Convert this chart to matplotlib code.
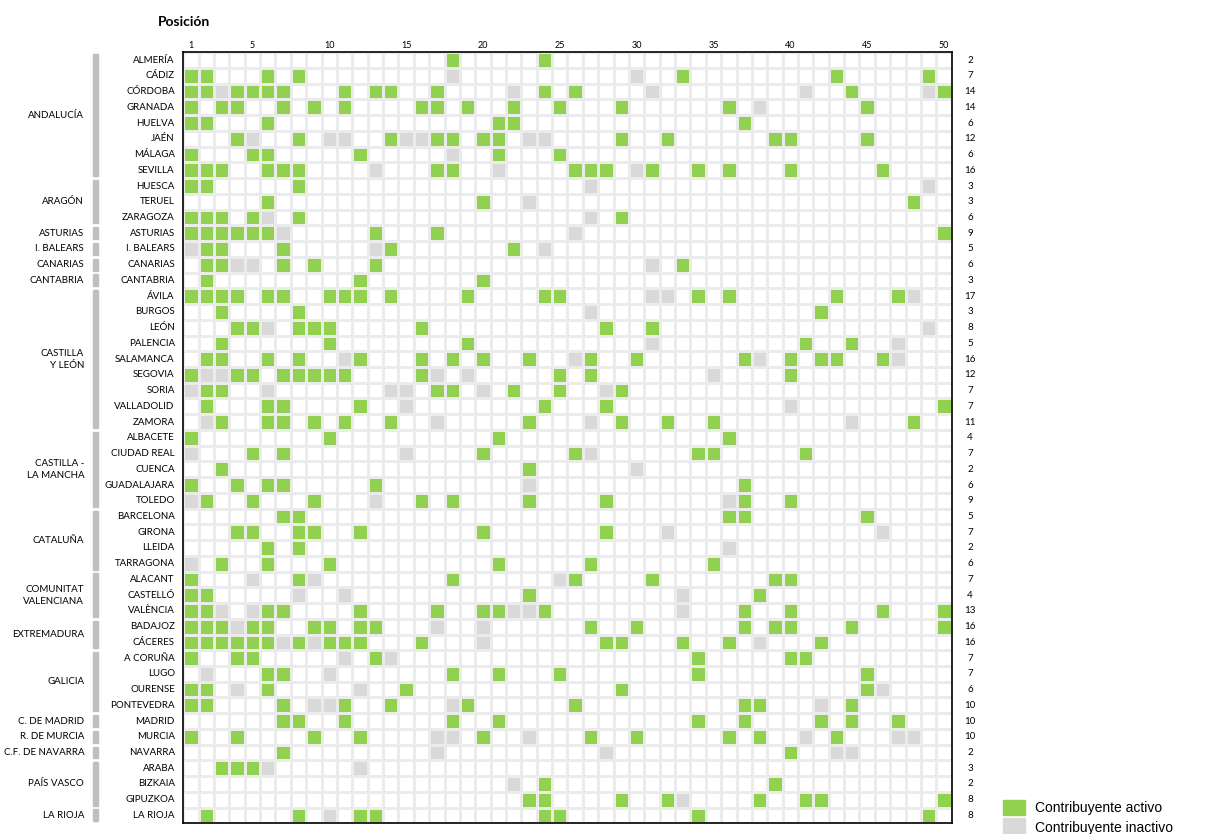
import numpy as np
import matplotlib
matplotlib.use('Agg')
import matplotlib.pyplot as plt
import matplotlib.patches as mpatches
from matplotlib.colors import ListedColormap

provincias = ['ALMERÍA', 'CÁDIZ', 'CÓRDOBA', 'GRANADA', 'HUELVA', 'JAÉN', 'MÁLAGA', 'SEVILLA',
              'HUESCA', 'TERUEL', 'ZARAGOZA', 'ASTURIAS', 'I. BALEARS', 'CANARIAS', 'CANTABRIA',
              'ÁVILA', 'BURGOS', 'LEÓN', 'PALENCIA', 'SALAMANCA', 'SEGOVIA', 'SORIA', 'VALLADOLID', 'ZAMORA',
              'ALBACETE', 'CIUDAD REAL', 'CUENCA', 'GUADALAJARA', 'TOLEDO',
              'BARCELONA', 'GIRONA', 'LLEIDA', 'TARRAGONA', 'ALACANT', 'CASTELLÓ', 'VALÈNCIA',
              'BADAJOZ', 'CÁCERES', 'A CORUÑA', 'LUGO', 'OURENSE', 'PONTEVEDRA',
              'MADRID', 'MURCIA', 'NAVARRA', 'ARABA', 'BIZKAIA', 'GIPUZKOA', 'LA RIOJA']

# posiciones (1-50) con contribuyente activo
activo = [
    [18, 24],
    [1, 2, 6, 8, 33, 43, 49],
    [1, 2, 4, 5, 6, 7, 11, 13, 14, 17, 24, 26, 44, 50],
    [1, 3, 4, 7, 9, 11, 16, 17, 19, 22, 25, 29, 36, 45],
    [1, 2, 6, 21, 22, 37],
    [4, 8, 14, 17, 18, 20, 21, 29, 32, 39, 40, 45],
    [1, 5, 6, 12, 21, 25],
    [1, 2, 3, 6, 7, 8, 17, 18, 26, 27, 28, 31, 34, 36, 40, 46],
    [1, 2, 8],
    [6, 20, 48],
    [1, 2, 3, 5, 8, 29],
    [1, 2, 3, 4, 5, 6, 13, 17, 50],
    [2, 3, 7, 14, 22],
    [2, 3, 7, 9, 13, 33],
    [2, 12, 20],
    [1, 2, 3, 4, 6, 7, 10, 11, 12, 14, 19, 24, 25, 34, 36, 43, 47],
    [3, 8, 42],
    [4, 5, 8, 9, 10, 16, 28, 31],
    [3, 10, 19, 41, 44],
    [2, 3, 6, 8, 12, 16, 18, 20, 23, 27, 30, 37, 40, 42, 43, 46],
    [1, 4, 5, 7, 8, 9, 10, 11, 16, 25, 27, 40],
    [2, 3, 17, 18, 22, 25, 29],
    [2, 6, 7, 12, 24, 28, 50],
    [3, 6, 7, 9, 11, 14, 23, 29, 32, 35, 48],
    [1, 10, 21, 36],
    [5, 7, 20, 26, 34, 35, 41],
    [3, 23],
    [1, 4, 6, 7, 13, 37],
    [2, 5, 9, 16, 18, 23, 28, 37, 40],
    [7, 8, 36, 37, 45],
    [4, 5, 8, 9, 12, 20, 28],
    [6, 8],
    [3, 6, 10, 21, 27, 35],
    [1, 8, 18, 26, 31, 39, 40],
    [1, 2, 23, 38],
    [1, 2, 6, 7, 12, 17, 20, 21, 24, 37, 40, 46, 50],
    [1, 2, 3, 5, 6, 9, 10, 12, 13, 27, 30, 37, 39, 40, 44, 50],
    [1, 2, 3, 4, 5, 6, 8, 10, 11, 12, 16, 28, 29, 33, 36, 42],
    [1, 4, 5, 13, 34, 40, 41],
    [6, 7, 18, 21, 25, 34, 45],
    [1, 2, 6, 15, 29, 45],
    [1, 2, 7, 11, 14, 19, 26, 37, 38, 44],
    [7, 8, 11, 18, 21, 34, 37, 42, 44, 47],
    [1, 4, 9, 12, 20, 27, 30, 36, 38, 43],
    [7, 40],
    [3, 4, 5],
    [24, 39],
    [23, 24, 29, 32, 38, 41, 42, 50],
    [2, 8, 12, 13, 24, 25, 34, 49],
]

# posiciones con contribuyente inactivo
inactivo = [
    [],
    [18, 30],
    [3, 22, 31, 41, 49],
    [38],
    [],
    [5, 10, 11, 15, 16, 23, 24],
    [18],
    [13, 21, 30],
    [27, 49],
    [23],
    [6, 27],
    [7, 26],
    [1, 13, 24],
    [4, 5, 31],
    [],
    [31, 32, 48],
    [27],
    [6, 49],
    [31, 47],
    [11, 26, 38, 47],
    [2, 3, 17, 19, 35],
    [1, 6, 14, 15, 20, 28],
    [15, 40],
    [2, 17, 27, 44],
    [],
    [1, 15, 27],
    [30],
    [23],
    [1, 13, 36],
    [],
    [32, 46],
    [36],
    [1],
    [5, 9, 25],
    [8, 11, 33],
    [3, 5, 22, 23, 33],
    [4, 17, 20],
    [7, 9, 20, 38],
    [11, 14],
    [2, 10],
    [4, 12, 46],
    [9, 10, 18, 42],
    [],
    [17, 18, 23, 41, 47, 48],
    [17, 28, 43, 44],
    [6, 12],
    [22],
    [33],
    [10],
]

regiones = ['ANDALUCÍA', 'ARAGÓN', 'ASTURIAS', 'I. BALEARS', 'CANARIAS', 'CANTABRIA',
            'CASTILLA\nY LEÓN', 'CASTILLA -\nLA MANCHA', 'CATALUÑA', 'COMUNITAT\nVALENCIANA',
            'EXTREMADURA', 'GALICIA', 'C. DE MADRID', 'R. DE MURCIA', 'C.F. DE NAVARRA',
            'PAÍS VASCO', 'LA RIOJA']
filas_region = [8, 3, 1, 1, 1, 1, 9, 5, 4, 3, 2, 4, 1, 1, 1, 3, 1]

ticks_pos = [1, 5, 10, 15, 20, 25, 30, 35, 40, 45, 50]

verde = '#92D050'
gris = '#D9D9D9'

n = len(provincias)
estado = np.zeros((n, 50))
for i in range(n):
    for p in activo[i]:
        estado[i, p - 1] = 1
    for p in inactivo[i]:
        estado[i, p - 1] = 2

plt.rcParams['font.family'] = ['Lato', 'DejaVu Sans']

fig = plt.figure(figsize=(12.12, 8.34), dpi=100)
ax = fig.add_axes([0.1512, 0.0128, 0.6340, 0.9245])

cmap = ListedColormap(['white', verde, gris])
ax.pcolormesh(np.arange(51), np.arange(n + 1), estado, cmap=cmap, vmin=0, vmax=2,
              edgecolors='#ebebeb', linewidth=0.8)
ax.set_xlim(0, 50)
ax.set_ylim(n, 0)

for s in ax.spines.values():
    s.set_color('black')
    s.set_linewidth(1.2)

ax.xaxis.tick_top()
ax.set_xticks([t - 0.5 for t in ticks_pos])
ax.set_xticklabels([str(t) for t in ticks_pos], fontsize=6.5)
ax.tick_params(axis='x', length=0, pad=2)
ax.set_yticks([])

# nombres de provincia y totales
for i, prov in enumerate(provincias):
    ax.text(-0.55, i + 0.5, prov, ha='right', va='center', fontsize=7, clip_on=False)
    ax.text(51.2, i + 0.5, str(len(activo[i])), ha='center', va='center', fontsize=7, clip_on=False)

# comunidades con su barra gris
inicio = 0
for reg, nf in zip(regiones, filas_region):
    bar = mpatches.Rectangle((-5.9, inicio + 0.12), 0.33, nf - 0.24, color='#bfbfbf', clip_on=False)
    ax.add_patch(bar)
    ax.text(-6.45, inicio + nf / 2, reg, ha='right', va='center', fontsize=7,
            multialignment='right', linespacing=1.45, clip_on=False)
    inicio += nf

fig.text(0.130, 0.974, 'Posición', fontsize=10, fontweight='bold', ha='left', va='center')

# leyenda
fig.patches.append(mpatches.Rectangle((1003 / 1212, 1 - 815 / 834), 22 / 1212, 15 / 834,
                                      color=verde, transform=fig.transFigure, figure=fig))
fig.patches.append(mpatches.Rectangle((1003 / 1212, 1 - 834 / 834), 22 / 1212, 16 / 834,
                                      color=gris, transform=fig.transFigure, figure=fig))
fig.text(1035 / 1212, 1 - 808 / 834, 'Contribuyente activo', fontsize=10,
         family='Liberation Sans', ha='left', va='center')
fig.text(1035 / 1212, 1 - 828 / 834, 'Contribuyente inactivo', fontsize=10,
         family='Liberation Sans', ha='left', va='center')

fig.savefig('out.png', dpi=100)
